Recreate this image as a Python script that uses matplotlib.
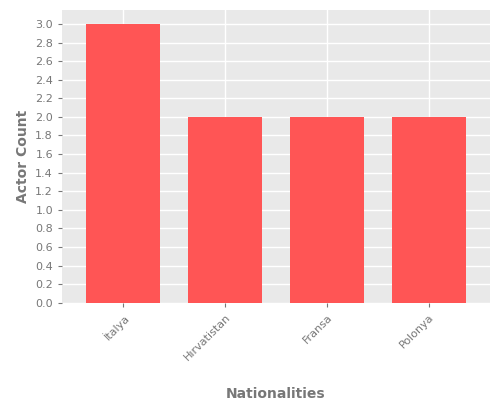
import matplotlib
matplotlib.use("Agg")
import matplotlib.pyplot as plt
import numpy as np

categories = ["İtalya", "Hırvatistan", "Fransa", "Polonya"]
counts = [3, 2, 2, 2]

fig = plt.figure(figsize=(5, 4), dpi=100)
ax = fig.add_axes([0.124, 0.243, 0.856, 0.732])
ax.set_facecolor("#E9E9E9")
x = np.arange(len(categories))
ax.bar(x, counts, width=0.72, color="#FF5555", zorder=3)
ax.set_xlim(-0.6, len(categories) - 0.4)
ax.set_ylim(0, 3.15)
ax.set_yticks(np.arange(0, 3.01, 0.2))
ax.set_yticklabels([f"{v:.1f}" for v in np.arange(0, 3.01, 0.2)])
ax.set_xticks(x)
ax.set_xticklabels(categories, rotation=45, ha="right", rotation_mode="anchor")
ax.grid(True, axis="y", color="white", linewidth=1, zorder=0)
ax.grid(True, axis="x", color="white", linewidth=1, zorder=0)
for s in ax.spines.values():
    s.set_visible(False)
ax.tick_params(colors="#777777", labelsize=8, length=3, labelcolor="#777777")
ax.set_xlabel("Nationalities", color="#777777", fontsize=10, fontweight="bold", labelpad=18)
ax.set_ylabel("Actor Count", color="#777777", fontsize=10, fontweight="bold")
fig.savefig("out.png")
